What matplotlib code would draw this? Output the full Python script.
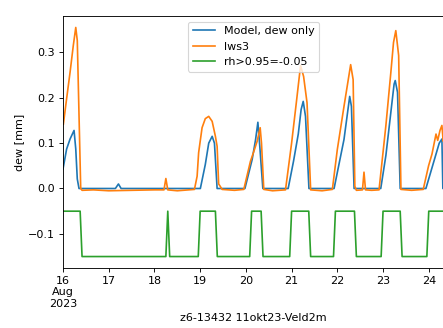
"""Dew model vs leaf wetness sensor, Veld2m, August 2023."""

import matplotlib
matplotlib.use("Agg")
import matplotlib.dates as mdates
import matplotlib.pyplot as plt
import pandas as pd
from matplotlib.ticker import FuncFormatter

START = pd.Timestamp("2023-08-16")
DPI = 80

# hours since START
model_hours = [0, 1.9, 3.7, 5.8, 6.7, 7.5, 8.4, 27.5, 29.1, 30.5,
               72.1, 74.7, 76.5, 78.3, 79.5, 80.9,
               95.5, 99.3, 101.1, 102.3, 103.3, 104.9,
               118.2, 121, 123.5, 125, 126.1, 127.3, 129.1,
               142.3, 147.5, 150.5, 151.4, 152.8,
               166.8, 169.5, 172.1, 173.8, 174.4, 175.6, 177.0,
               190.5, 194.0, 197.5, 198.9, 199.4, 200]
model_dew = [0.043, 0.087, 0.109, 0.128, 0.087, 0.021, 0.0, 0.0, 0.01, 0.0,
             0.0, 0.053, 0.1, 0.115, 0.10, 0.0,
             0.0, 0.064, 0.108, 0.146, 0.093, 0.0,
             0.0, 0.06, 0.12, 0.174, 0.192, 0.159, 0.0,
             0.0, 0.108, 0.203, 0.181, 0.0,
             0.0, 0.073, 0.168, 0.23, 0.238, 0.212, 0.0,
             0.0, 0.05, 0.10, 0.109, 0.0, 0.0]

lws_hours = [0.2, 1.9, 3.7, 5.4, 6.7, 7.5, 9.3, 10, 16, 24, 36, 48, 53, 54, 55, 60, 69,
             70.4, 71.2, 73.0, 74.7, 76.5, 78.3, 80.0, 80.9, 81.7, 82.5, 83.5, 90,
             94.9, 98.4, 100.2, 101.9, 103.5, 104.2, 105.4, 110, 116.8,
             120, 122.5, 124.7, 126.3, 128.1, 130, 136, 141.4,
             144.0, 147.5, 151.0, 152.3, 153.2, 154, 157.2, 158.0, 158.8, 162, 165.9,
             169.5, 172.1, 173.5, 174.7, 176.2, 177.4, 183, 189.1,
             191.9, 193.7, 195.8, 196.7, 197.9, 198.9, 199.6, 200]
lws_dew = [0.142, 0.198, 0.256, 0.315, 0.355, 0.326, 0.0, -0.004, -0.003, -0.005, -0.004, -0.003,
           -0.003, 0.022, -0.003, -0.005, -0.002,
           0.027, 0.079, 0.134, 0.154, 0.159, 0.148, 0.115, 0.093, 0.01, 0.005, -0.002, -0.004,
           -0.002, 0.06, 0.082, 0.104, 0.134, 0.10, -0.002, -0.005, -0.003,
           0.1, 0.19, 0.271, 0.247, 0.189, -0.003, -0.005, -0.002,
           0.086, 0.181, 0.273, 0.24, 0.005, -0.004, -0.003, 0.036, -0.003, -0.004, -0.003,
           0.139, 0.256, 0.322, 0.348, 0.293, -0.002, -0.004, -0.002,
           0.05, 0.076, 0.12, 0.106, 0.128, 0.139, 0.104, 0.12]

rh_hours = [0, 9, 10, 54, 55, 56, 71, 72, 80, 81, 98, 99, 104, 105, 119, 120, 129, 130,
            142, 143, 153, 154, 167, 168, 177, 178, 191, 192, 200]
rh_flag = [-0.05, -0.05, -0.15, -0.15, -0.05, -0.15, -0.15, -0.05, -0.05, -0.15,
           -0.15, -0.05, -0.05, -0.15, -0.15, -0.05, -0.05, -0.15,
           -0.15, -0.05, -0.05, -0.15, -0.15, -0.05, -0.05, -0.15, -0.15, -0.05, -0.05]


def to_time(hours):
    return START + pd.to_timedelta(hours, unit="h")


def day_label(x, pos):
    d = mdates.num2date(x)
    if pos == 0:
        return d.strftime("%d\n%b\n%Y")
    return d.strftime("%d")


fig = plt.figure(figsize=(443 / DPI, 328 / DPI), dpi=DPI)
ax = fig.add_axes([63 / 443, 60 / 328, 381 / 443, 252 / 328])

ax.plot(to_time(model_hours), model_dew, color="C0", linewidth=1.5, label="Model, dew only")
ax.plot(to_time(lws_hours), lws_dew, color="C1", linewidth=1.5, label="lws3")
ax.plot(to_time(rh_hours), rh_flag, color="C2", linewidth=1.5, label="rh>0.95=-0.05")

ax.set_xlim(START, START + pd.Timedelta(hours=200))
ax.xaxis.set_major_locator(mdates.DayLocator())
ax.xaxis.set_major_formatter(FuncFormatter(day_label))
ax.set_xlabel("z6-13432 11okt23-Veld2m")
ax.set_ylabel("dew [mm]")
ax.legend(loc="upper center")

fig.savefig("out.png", dpi=DPI)
